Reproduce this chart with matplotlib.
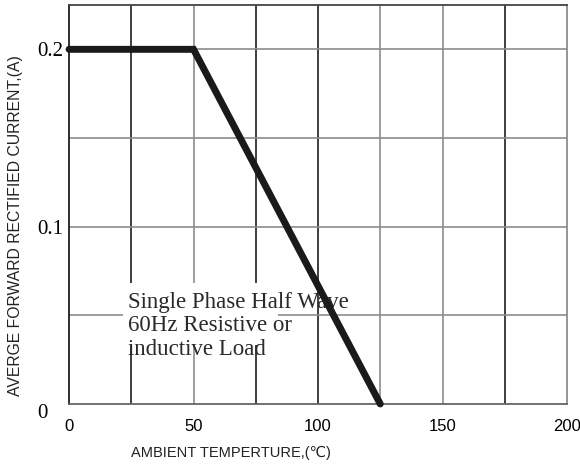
import matplotlib
matplotlib.use("Agg")
import matplotlib.pyplot as plt
from matplotlib.patches import Rectangle

# derating curve
temp = [0, 50, 125]
current = [0.2, 0.2, 0.0]

xticks = [0, 50, 100, 150, 200]
yticks = [0, 0.1, 0.2]
ytick_labels = ["0", "0.1", "0.2"]

fig = plt.figure(figsize=(5.8, 4.68), dpi=100)
ax = fig.add_axes([0.119, 0.1368, 0.8586, 0.8525])

ax.set_xlim(0, 200)
ax.set_ylim(0, 0.225)

# grid, some lines dark and some gray as in the datasheet
dark = "#1e1e1e"
gray = "#8c8c8c"
vcols = {25: dark, 50: gray, 75: dark, 100: dark, 125: gray, 150: gray, 175: dark}
for x, c in vcols.items():
    ax.axvline(x, color=c, lw=1.2, zorder=1)
for y in [0.05, 0.1, 0.15, 0.2]:
    ax.axhline(y, color=gray, lw=1.2, zorder=1)

ax.plot(temp, current, color="#1a1a1a", lw=5, solid_capstyle="round",
        solid_joinstyle="miter", zorder=3, clip_on=False)

ax.spines["left"].set_color(dark)
ax.spines["top"].set_color("#444444")
ax.spines["right"].set_color(gray)
ax.spines["bottom"].set_color("#666666")
for s in ax.spines.values():
    s.set_linewidth(1.3)

ax.set_xticks(xticks)
ax.set_xticklabels([str(t) for t in xticks], family="Liberation Sans", fontsize=12)
ax.set_yticks(yticks)
ax.set_yticklabels(ytick_labels, family="Liberation Serif", fontsize=15)
ax.tick_params(length=0)
ax.tick_params(axis="x", pad=11)
ax.tick_params(axis="y", pad=23)
for lab in ax.get_yticklabels():
    lab.set_ha("left")
ax.get_yticklabels()[0].set_va("top")

fig.text(231 / 580, 1 - 453 / 468, "AMBIENT TEMPERTURE,(℃)", ha="center", va="center",
         family=["Liberation Sans", "DejaVu Sans"], fontsize=10.5, color="#222222")
fig.text(15.5 / 580, 1 - 226 / 468, "AVERGE FORWARD RECTIFIED CURRENT,(A)", ha="center", va="center",
         rotation=90, family="Liberation Sans", fontsize=11.3, color="#222222")

# white patch behind the note, as in the source figure
ax.add_patch(Rectangle((21.7, 0.0332), 62.3, 0.0351, facecolor="white",
                       edgecolor="none", zorder=1.5))
ax.text(23.5, 0.0248, "Single Phase Half Wave\n60Hz Resistive or\ninductive Load",
        family="Liberation Serif", fontsize=16.5, color="#2a2a2a", linespacing=1.16,
        va="bottom", ha="left", zorder=2)

fig.savefig("out.png", dpi=100)
